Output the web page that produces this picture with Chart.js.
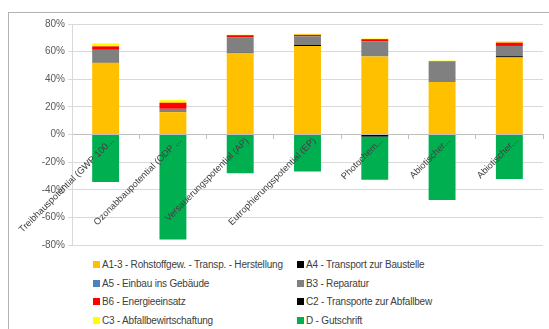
<!DOCTYPE html>
<html>
<head>
<meta charset="utf-8">
<script src="https://cdn.jsdelivr.net/npm/chart.js@4.4.1/dist/chart.umd.min.js"></script>
<style>
    body { margin: 0; background: #fff; }
    #wrap { position: relative; width: 549px; height: 329px; overflow: hidden; }
    #frame { position: absolute; left: 8px; top: 12px; width: 600px; height: 400px; border: 1px solid #b3b3b3; }
    #chart { position: absolute; left: 0; top: 0; }
    #legend { position: absolute; left: 93px; top: 256px; display: grid; grid-template-columns: 204px 220px; font-family: 'Liberation Sans', sans-serif; font-size: 10px; letter-spacing: -0.2px; color: #404040; }
    #legend div { height: 18.5px; line-height: 18.5px; white-space: nowrap; }
    #legend span { display: inline-block; width: 7px; height: 7px; margin-right: 2px; vertical-align: 0px; }
</style>
</head>
<body>
<div id="wrap">
    <div id="frame"></div>
    <canvas id="chart" width="549" height="255"></canvas>
    <div id="legend"></div>
</div>
<script>
// Data
const categories = ['Treibhauspotential (GWP 100...', 'Ozonabbaupotential (ODP ...', 'Versauerungspotential (AP)',
    'Eutrophierungspotential (EP)', 'Photochem...', 'Abiotischer...', 'Abiotischer...'];
const a13 = [52, 16.2, 58.8, 64, 56.5, 38, 55.8];
const a4 = [0.3, 0, 0.4, 0.8, -1.5, 0, 0.9];
const a5 = [0, 0, 0, 0, 0, 0, 0];
const b3 = [9, 2.4, 11, 6.3, 11, 15.1, 7.4];
const b6 = [2.5, 4.4, 1.7, 1.1, 1.5, 0, 2.4];
const c2 = [0, 0, 0, 0, 0, 0, 0];
const c3 = [2.2, 1.9, 0.3, 0.7, 0.5, 0.4, 1.2];
const d = [-34.4, -76, -28.1, -26.7, -31.3, -47.5, -32.2];
const yTicks = [80, 60, 40, 20, 0, -20, -40, -60, -80];

const series = [
    { label: 'A1-3 - Rohstoffgew. - Transp. - Herstellung', data: a13, color: '#FFC000' },
    { label: 'A4 - Transport zur Baustelle', data: a4, color: '#000000' },
    { label: 'A5 - Einbau ins Gebäude', data: a5, color: '#4F81BD' },
    { label: 'B3 - Reparatur', data: b3, color: '#808080' },
    { label: 'B6 - Energieeinsatz', data: b6, color: '#FF0000' },
    { label: 'C2 - Transporte zur Abfallbew', data: c2, color: '#000000' },
    { label: 'C3 - Abfallbewirtschaftung', data: c3, color: '#FFFF00' },
    { label: 'D - Gutschrift', data: d, color: '#00B050' }
];

document.addEventListener('DOMContentLoaded', () => {
    const ctx = document.getElementById('chart').getContext('2d');
    const chart = new Chart(ctx, {
        type: 'bar',
        data: {
            labels: categories,
            datasets: series.map(s => ({
                label: s.label,
                data: s.data,
                backgroundColor: s.color,
                borderWidth: 0,
                categoryPercentage: 1,
                barPercentage: 0.4
            }))
        },
        options: {
            responsive: false,
            animation: false,
            layout: { padding: { top: 24, right: 6, bottom: 10, left: 9 } },
            plugins: {
                legend: { display: false },
                tooltip: { enabled: false }
            },
            scales: {
                x: {
                    stacked: true,
                    position: { y: 0 },
                    afterFit: (scale) => {
                        scale.paddingLeft = 0; scale.paddingRight = 0;
                        scale.paddingTop = 0; scale.paddingBottom = 0;
                    },
                    grid: { drawOnChartArea: false, drawTicks: true, tickLength: 4, offset: true, color: '#bfbfbf' },
                    border: { display: true, color: '#bfbfbf' },
                    ticks: {
                        z: 1, // labels sit on top of the bars like in Excel
                        minRotation: 45, maxRotation: 45, autoSkip: false,
                        labelOffset: 7, padding: -3,
                        color: '#404040',
                        font: { family: "'Liberation Sans', sans-serif", size: 9.3 }
                    }
                },
                y: {
                    stacked: true,
                    min: -80, max: 80,
                    afterFit: (scale) => {
                        scale.width = 63;
                        scale.paddingTop = 0; scale.paddingBottom = 0;
                    },
                    afterBuildTicks: (scale) => { scale.ticks = yTicks.map(v => ({ value: v })); },
                    grid: { color: '#d9d9d9', tickLength: 4 },
                    border: { display: true, color: '#d9d9d9' },
                    ticks: {
                        color: '#595959',
                        callback: v => v + '%',
                        font: { family: "'Liberation Sans', sans-serif", size: 10 }
                    }
                }
            }
        }
    });

    // legend in two columns, Excel style
    const legend = document.getElementById('legend');
    legend.innerHTML = chart.data.datasets.map(ds =>
        `<div><span style="background:${ds.backgroundColor}"></span>${ds.label}</div>`).join('');
});
</script>
</body>
</html>
